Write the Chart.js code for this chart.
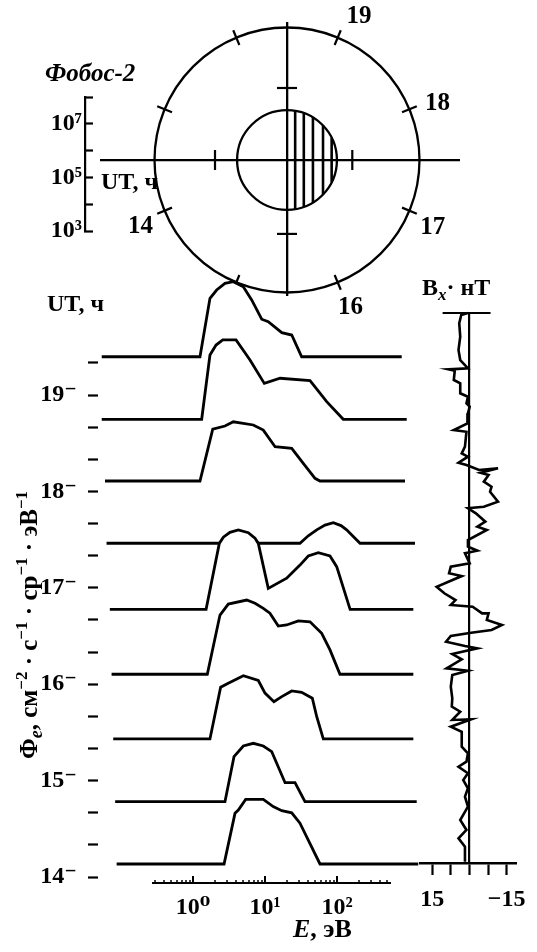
<!DOCTYPE html>
<html><head><meta charset="utf-8">
<script src="https://cdn.jsdelivr.net/npm/chart.js@4.4.0/dist/chart.umd.min.js"></script>
<style>
html,body{margin:0;padding:0;background:#fff;width:537px;height:952px;overflow:hidden}
canvas{position:absolute;left:0;top:0}
</style></head><body>
<canvas id="cOrbit" width="537" height="952"></canvas>
<canvas id="cFlux" width="537" height="952"></canvas>
<canvas id="cBx" width="537" height="952"></canvas>
<canvas id="cE" width="537" height="952"></canvas>
<canvas id="cSpec" width="537" height="952"></canvas>
<script>
// ---------------- DATA ----------------
// UT (hours) of each spectrum's baseline, bottom to top
const specUT = [14.135, 14.781, 15.432, 16.103, 16.777, 17.462, 18.108, 18.748, 19.397];
// energy E (eV) and log10 flux for each spectrum (baseline = 10^3)
const e1408 = [0.087, 2.70, 3.83, 4.26, 5.39, 9.47, 13.0, 17.1, 23.5, 30.6, 58.0, 1345];
const f1408 = [3, 3, 4.89, 5.01, 5.41, 5.41, 5.14, 4.99, 4.91, 4.52, 3, 3];
const e1447 = [0.083, 2.78, 3.71, 5.0, 6.88, 9.47, 12.4, 19.0, 26.1, 35.9, 1279];
const f1447 = [3, 3, 4.68, 5.08, 5.18, 5.08, 4.87, 3.71, 3.71, 3, 3];
const e1526 = [0.078, 1.72, 2.42, 3.09, 5.0, 8.07, 10.0, 13.3, 17.1, 23.5, 32.3, 45.4, 52.3, 64.5, 1148];
const f1526 = [3, 3, 4.93, 5.08, 5.36, 5.18, 4.71, 4.39, 4.58, 4.79, 4.74, 4.52, 3.83, 3, 3];
const e1606 = [0.074, 1.58, 2.37, 3.09, 5.57, 7.26, 9.47, 11.7, 15.3, 20.0, 29.0, 42.2, 61.3, 79.9, 110, 1148];
const f1606 = [3, 3, 5.21, 5.62, 5.77, 5.65, 5.46, 5.28, 4.80, 4.84, 4.99, 4.96, 4.53, 3.91, 3, 3];
const e1647 = [0.070, 1.52, 2.32, 2.64, 3.26, 4.26, 5.86, 7.26, 8.07, 11.1, 20.0, 30.6, 39.9, 55.0, 79.9, 99, 152, 1148];
const f1647 = [3, 3, 5.46, 5.69, 5.87, 5.96, 5.86, 5.65, 5.46, 3.78, 4.16, 4.65, 4.99, 5.11, 4.99, 4.59, 3, 3];
const e1728 = [0.063, 30.6, 39.9, 52.3, 68.1, 88.9, 113.6, 136, 168, 209, 1211];
const f1728 = [3, 3, 3.28, 3.50, 3.68, 3.77, 3.66, 3.50, 3.25, 3, 3];
const e1806 = [0.060, 1.25, 1.88, 2.78, 3.63, 6.88, 9.47, 13.8, 23.5, 34.0, 49.5, 58.0, 880];
const f1806 = [3, 3, 4.93, 5.05, 5.21, 5.09, 4.90, 4.28, 4.22, 3.66, 3.10, 3, 3];
const e1845 = [0.054, 1.32, 1.72, 2.09, 2.59, 3.96, 6.19, 9.78, 16.2, 42.2, 71.9, 122, 929];
const f1845 = [3, 3, 5.40, 5.77, 5.96, 5.96, 5.21, 4.34, 4.53, 4.44, 3.66, 3, 3];
const e1924 = [0.054, 1.25, 1.72, 2.13, 2.78, 3.63, 5.0, 6.53, 9.0, 11.1, 17.1, 23.5, 32.3, 792];
const f1924 = [3, 3, 5.18, 5.49, 5.74, 5.80, 5.61, 5.12, 4.40, 4.31, 3.90, 3.81, 3, 3];
const FLUX_BASE = 3;              // log10 flux of each baseline
const FLUX_UT_PER_DECADE = 0.278; // waterfall offset: one flux decade in UT hours

// Bx magnetometer trace
const bxUT = [19.85,19.83,19.744,19.605,19.467,19.363,19.311,19.277,19.266,19.252,19.156,19.121,19.018,18.982,18.914,18.879,18.81,18.706,18.637,18.619,18.464,18.395,18.36,18.298,18.274,18.222,18.24,18.194,18.17,18.101,18.049,17.997,17.893,17.841,17.825,17.773,17.686,17.634,17.6,17.496,17.426,17.385,17.358,17.254,17.219,17.15,17.122,17.011,16.943,16.873,16.822,16.804,16.735,16.735,16.666,16.614,16.562,16.534,16.5,16.441,16.396,16.372,16.313,16.258,16.165,16.14,16.095,15.974,15.854,15.767,15.715,15.629,15.636,15.559,15.507,15.352,15.283,15.196,15.144,15.076,15.006,14.92,14.833,14.729,14.591,14.488,14.401,14.314,14.159];
const bxNT = [0.6,3.3,4.1,3.7,4.4,3.7,1.8,0.6,8.4,5.9,6.3,3.7,3.7,0.6,1.2,-0.1,0.6,0.8,6.3,1.2,1.8,3.1,0.6,4.4,1.2,-3.9,-11.5,-4.5,-7.7,-5.8,-8.9,-8.3,-11.5,-5.8,0.6,-2.6,-6.4,-3.2,-7.0,0.6,0.6,-3.2,1.8,-0.1,7.5,8.2,3.1,13.2,10.1,5.6,7.5,-1.3,-5.1,-7.7,-7.0,-13.1,-8.9,-0.7,7.5,9.4,1.8,-3.2,6.9,3.1,9.2,0.6,6.9,7.5,6.9,7.1,3.7,6.9,-0.7,7.5,3.1,3.1,0.6,1.2,4.4,0.6,2.5,0.6,1.8,0.6,3.7,1.2,4.4,1.8,1.8];
const bxCap = [10.8, -8.5];
const bxTicks = [15, 7.5, 0, -7.5, -15];
const bxTickLabels = ['15', '', '', '', '\u221215'];

// axes ticks
const utTicks = [14,14.333,14.667,15,15.333,15.667,16,16.333,16.667,17,17.333,17.667,18,18.333,18.667,19,19.333];
const eTicks = [0.3,0.4,0.5,0.6,0.7,0.8,0.9,1,2,3,4,5,6,7,8,9,10,20,30,40,50,60,70,80,90,100,200,300,400,500];
const eDecadeLabels = {'1':'10\u2070','10':'10\u00b9','100':'10\u00b2'};
const fluxDecades = [3,4,5,6,7,8];
const fluxLabels = {3:'10\u00b3',5:'10\u2075',7:'10\u2077'};

// orbit diagram (units: Mars radii)
const orbitRadius = 2.76;
const marsRadius = 1.04;
const marsHatchX = [0.17, 0.35, 0.54, 0.75, 0.93];
const orbitTickHours = [13,14,15,16,17,18,19,20];
const orbitTickAngle = [157.5,-157.5,-112.5,-67.5,-22.5,22.5,67.5,112.5];
const orbitLabelText = ['14','16','17','18','19'];
const orbitLabelAngle = [-155.6,-66.7,-25,20.6,63.4];
const orbitLabelRadius = 3.35;
const crossTickX = [-1.5, 1.36];
const crossTickY = [1.5, -1.54];

// ---------------- HELPERS ----------------
const SERIF = "'Liberation Serif','DejaVu Serif',serif";
const F = (size, style) => (style || '') + ' bold ' + size + 'px ' + SERIF;
function rich(ctx, parts, x, y, align) {
  let w = 0;
  parts.forEach(p => { ctx.font = p[1]; w += ctx.measureText(p[0]).width; });
  let cx = align === 'center' ? x - w / 2 : x;
  ctx.textAlign = 'left'; ctx.textBaseline = 'alphabetic'; ctx.fillStyle = '#000';
  parts.forEach(p => { ctx.font = p[1]; ctx.fillText(p[0], cx, y + (p[2] || 0)); cx += ctx.measureText(p[0]).width; });
}
const base = {responsive:false, animation:false, devicePixelRatio:1,
  plugins:{legend:{display:false}, tooltip:{enabled:false}}, events:[]};
const tickFont = {family: SERIF, size: 24, weight: 'bold'};

// ---------------- ORBIT DIAGRAM ----------------
const orbitPts = orbitTickAngle.map(a => ({x: orbitRadius*Math.cos(a*Math.PI/180), y: orbitRadius*Math.sin(a*Math.PI/180)}));
const crossPts = crossTickX.map(v => ({x:v, y:0})).concat(crossTickY.map(v => ({x:0, y:v})));
const crossRot = crossTickX.map(() => 90).concat(crossTickY.map(() => 0));
const orbitPlugin = {
  id:'orbitDraw',
  beforeDatasetsDraw(chart) {
    const ctx = chart.ctx, xs = chart.scales.x, ys = chart.scales.y;
    const cx = xs.getPixelForValue(0), cy = ys.getPixelForValue(0);
    const rO = xs.getPixelForValue(orbitRadius) - cx;
    const rM = xs.getPixelForValue(marsRadius) - cx;
    ctx.save(); ctx.strokeStyle = '#000'; ctx.lineWidth = 2.3;
    ctx.beginPath(); ctx.arc(cx, cy, rO, 0, 2*Math.PI); ctx.stroke();
    ctx.beginPath(); ctx.arc(cx, cy, rM, 0, 2*Math.PI); ctx.stroke();
    ctx.lineWidth = 2.6;
    marsHatchX.forEach(h => {
      const hh = Math.sqrt(marsRadius*marsRadius - h*h);
      const px = xs.getPixelForValue(h);
      ctx.beginPath(); ctx.moveTo(px, ys.getPixelForValue(hh)); ctx.lineTo(px, ys.getPixelForValue(-hh)); ctx.stroke();
    });
    ctx.font = F(25); ctx.fillStyle = '#000'; ctx.textAlign = 'center'; ctx.textBaseline = 'middle';
    orbitLabelText.forEach((t, i) => {
      const a = orbitLabelAngle[i]*Math.PI/180;
      ctx.fillText(t, xs.getPixelForValue(orbitLabelRadius*Math.cos(a)), ys.getPixelForValue(orbitLabelRadius*Math.sin(a)));
    });
    ctx.restore();
  }
};
new Chart(document.getElementById('cOrbit'), {
  type:'scatter',
  data:{datasets:[
    {data: orbitPts, pointStyle:'line', pointRadius:8, pointRotation: orbitTickAngle.map(a => -a), pointBorderColor:'#000', pointBorderWidth:2.2, clip:false},
    {data: crossPts, pointStyle:'line', pointRadius:10, pointRotation: crossRot, pointBorderColor:'#000', pointBorderWidth:2.2, clip:false}
  ]},
  options: Object.assign({}, base, {
    layout:{padding:{left:101, right:78, top:23, bottom:657}},
    scales:{
      x:{type:'linear', min:-3.875, max:3.583, position:{y:0}, grid:{display:false}, ticks:{display:false}, border:{display:true, color:'#000', width:2.3}},
      y:{type:'linear', min:-2.8125, max:2.854, position:{x:0}, grid:{display:false}, ticks:{display:false}, border:{display:true, color:'#000', width:2.3}}
    }
  }),
  plugins:[orbitPlugin]
});

// ---------------- FLUX SCALE BRACKET ----------------
new Chart(document.getElementById('cFlux'), {
  type:'scatter', data:{datasets:[]},
  options: Object.assign({}, base, {
    layout:{padding:{left:0, right:442, top:97, bottom:721}},
    scales:{
      x:{type:'linear', display:false, min:0, max:1},
      y:{type:'logarithmic', min:1e3, max:1e8, position:'left',
        afterFit(s){ s.width = 85; },
        afterBuildTicks(s){ s.ticks = fluxDecades.map(d => ({value: Math.pow(10, d)})); },
        grid:{drawOnChartArea:false, tickLength:-8, tickWidth:2.2, tickColor:'#000'},
        border:{display:true, color:'#000', width:2.2},
        ticks:{autoSkip:false, padding:11, color:'#000', font:tickFont,
          callback:(v) => fluxLabels[Math.round(Math.log10(v))] || ''}
      }
    }
  })
});

// ---------------- Bx PANEL ----------------
const bxCapPlugin = {
  id:'bxCap',
  afterDatasetsDraw(chart) {
    const ctx = chart.ctx, xs = chart.scales.x, ys = chart.scales.y;
    const y = ys.getPixelForValue(ys.max);
    ctx.save(); ctx.strokeStyle = '#000'; ctx.lineWidth = 2.2;
    ctx.beginPath(); ctx.moveTo(xs.getPixelForValue(bxCap[0]), y); ctx.lineTo(xs.getPixelForValue(bxCap[1]), y); ctx.stroke();
    ctx.restore();
  }
};
new Chart(document.getElementById('cBx'), {
  type:'scatter',
  data:{datasets:[{data: bxUT.map((t, i) => ({x: bxNT[i], y: t})), showLine:true, borderColor:'#000', borderWidth:2.6, pointRadius:0, tension:0, clip:false}]},
  options: Object.assign({}, base, {
    layout:{padding:{left:420, right:15, top:313, bottom:29}},
    scales:{
      x:{type:'linear', reverse:true, min:-18.8, max:19.9, position:'bottom',
        afterFit(s){ s.height = 60; },
        afterBuildTicks(s){ s.ticks = bxTicks.map(v => ({value:v})); },
        grid:{drawOnChartArea:false, tickLength:12, tickWidth:2.2, tickColor:'#000'},
        border:{display:true, color:'#000', width:2.5},
        ticks:{autoSkip:false, maxRotation:0, padding:10, color:'#000', font:tickFont,
          callback:(v) => bxTickLabels[bxTicks.indexOf(v)] || ''}
      },
      y:{type:'linear', min:14.145, max:19.851, position:{x:0}, grid:{display:false}, ticks:{display:false}, border:{display:true, color:'#000', width:2.2}}
    }
  }),
  plugins:[bxCapPlugin]
});

// ---------------- ENERGY AXIS ----------------
new Chart(document.getElementById('cE'), {
  type:'scatter', data:{datasets:[]},
  options: Object.assign({}, base, {
    layout:{padding:{left:153, right:147, top:876, bottom:19}},
    scales:{
      x:{type:'logarithmic', min:0.278, max:545, position:'bottom',
        afterFit(s){ s.height = 50; },
        afterBuildTicks(s){ s.ticks = eTicks.map(v => ({value:v})); },
        grid:{drawOnChartArea:true, lineWidth:2,
          color:(c) => (c.tick && eDecadeLabels[String(c.tick.value)]) ? '#000' : 'rgba(0,0,0,0)',
          tickLength:-3, tickWidth:1.5, tickColor:'#000'},
        border:{display:true, color:'#000', width:2},
        ticks:{autoSkip:false, maxRotation:0, padding:13, color:'#000', font:tickFont,
          callback:(v) => eDecadeLabels[String(v)] || ''}
      },
      y:{display:false, min:0, max:1}
    }
  })
});

// ---------------- SPECTRA ----------------
const specE = [e1408, e1447, e1526, e1606, e1647, e1728, e1806, e1845, e1924];
const specF = [f1408, f1447, f1526, f1606, f1647, f1728, f1806, f1845, f1924];
const specSets = specUT.map((ut, k) => ({
  data: specE[k].map((e, i) => ({x: e, y: ut + (specF[k][i] - FLUX_BASE) * FLUX_UT_PER_DECADE})),
  showLine:true, borderColor:'#000', borderWidth:2.8, pointRadius:0, tension:0,
  fill:{value: ut}, backgroundColor:'#fff', clip:false
}));
const textPlugin = {
  id:'texts',
  afterDraw(chart) {
    const ctx = chart.ctx;
    ctx.save();
    rich(ctx, [['\u0424\u043e\u0431\u043e\u0441-2', F(25, 'italic')]], 45, 81);
    rich(ctx, [['UT, \u0447', F(24)]], 101, 189);
    rich(ctx, [['UT, \u0447', F(24)]], 47, 311);
    rich(ctx, [['B', F(24)], ['x', F(17, 'italic'), 5], ['\u00b7 \u043dT', F(24)]], 422, 295);
    rich(ctx, [['E', F(26, 'italic')], [', \u044dB', F(26)]], 293, 937);
    ctx.translate(37, 625); ctx.rotate(-Math.PI/2);
    rich(ctx, [['\u03a6', F(25)], ['e', F(18, 'italic'), 5], [', \u0441\u043c', F(25)], ['\u22122', F(17), -10],
      [' \u00b7 \u0441', F(25)], ['\u22121', F(17), -10], [' \u00b7 \u0441\u0440', F(25)], ['\u22121', F(17), -10],
      [' \u00b7 \u044dB', F(25)], ['\u22121', F(17), -10]], 0, 0, 'center');
    ctx.restore();
  }
};
new Chart(document.getElementById('cSpec'), {
  type:'scatter',
  data:{datasets: specSets},
  options: Object.assign({}, base, {
    layout:{padding:{left:0, right:117, top:269.68, bottom:65.36}},
    scales:{
      x:{type:'logarithmic', display:false, min:0.04793, max:1421},
      y:{type:'linear', min:13.9, max:20.3, position:'left',
        afterFit(s){ s.width = 98; },
        afterBuildTicks(s){ s.ticks = utTicks.map(v => ({value:v})); },
        grid:{drawOnChartArea:false, tickLength:10, tickWidth:2.2, tickColor:'#000'},
        border:{display:false},
        ticks:{autoSkip:false, padding:11, color:'#000', font:tickFont,
          callback:(v) => Math.abs(v - Math.round(v)) < 1e-6 ? Math.round(v) + '\u207b' : ''}
      }
    }
  }),
  plugins:[textPlugin]
});
</script>
</body></html>
